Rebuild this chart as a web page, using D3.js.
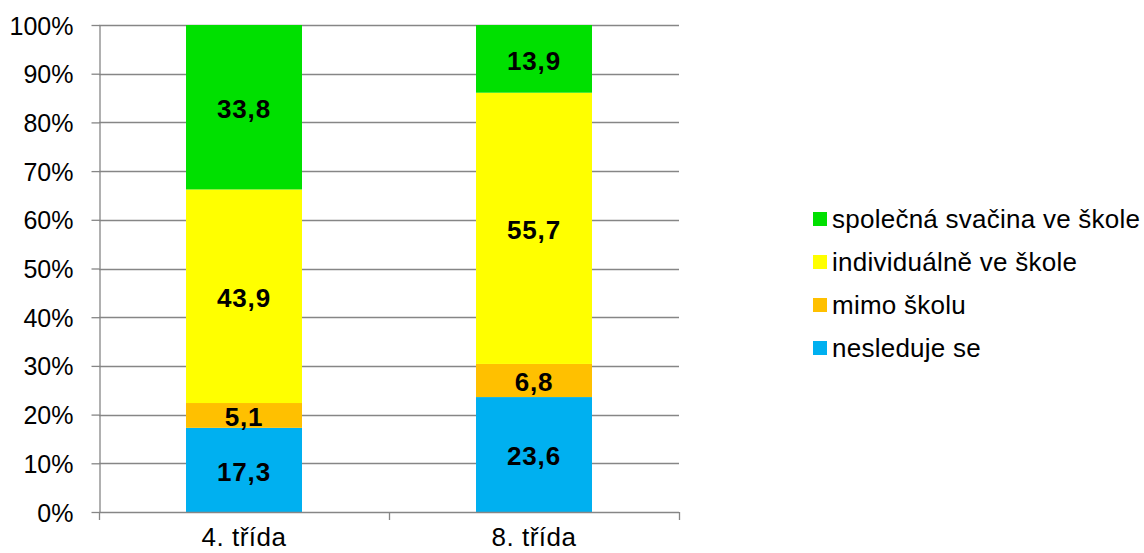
<!DOCTYPE html>
<html><head><meta charset="utf-8">
<script src="https://cdn.jsdelivr.net/npm/d3@7"></script>
<style>body{margin:0;background:#fff}svg{display:block}text{font-family:"Liberation Sans",Arial,sans-serif}</style>
</head><body><svg id="c" width="1144" height="553"></svg>
<script>
const categories = ["4. třída", "8. třída"];
const seriesNames = ["nesleduje se", "mimo školu", "individuálně ve škole", "společná svačina ve škole"];
const seriesColors = ["#00B0F0", "#FFC000", "#FFFF00", "#00E000"];
const nesleduje = [17.3, 23.6];
const mimo = [5.1, 6.8];
const individualne = [43.9, 55.7];
const spolecna = [33.8, 13.9];
const yTicks = [0, 10, 20, 30, 40, 50, 60, 70, 80, 90, 100];

const seriesValues = [nesleduje, mimo, individualne, spolecna];
const rows = categories.map((c, i) => {
  const r = {cat: c};
  seriesNames.forEach((s, j) => r[s] = seriesValues[j][i]);
  return r;
});
const stack = d3.stack().keys(seriesNames).offset(d3.stackOffsetExpand);
const stacked = stack(rows);

const svg = d3.select("#c");
const L = 99, R = 679, T = 25, B = 512;
const x = d3.scaleBand().domain(categories).range([L, R]).paddingInner(0.6).paddingOuter(0.3);
const y = d3.scaleLinear().domain([0, 1]).range([B, T]);
const grey = "#868686";

// gridlines
svg.append("g").selectAll("line").data(yTicks.filter(t => t > 0)).join("line")
  .attr("x1", L).attr("x2", R).attr("y1", d => Math.round(y(d / 100)) + 0.5).attr("y2", d => Math.round(y(d / 100)) + 0.5)
  .attr("stroke", grey).attr("stroke-width", 1.3);

// y axis
const yAxis = d3.axisLeft(y).tickValues(yTicks.map(t => t / 100)).tickFormat(d => Math.round(d * 100) + "%").tickSize(8).tickSizeOuter(0);
const gy = svg.append("g").attr("transform", `translate(${L + 0.5},0)`).call(yAxis);
gy.attr("font-family", null).attr("font-size", null);
gy.selectAll("path,line").attr("stroke", grey).attr("stroke-width", 1.3);
gy.selectAll("text").attr("font-size", 25).attr("fill", "#000").attr("x", -26).attr("dy", "0.36em");

// bars
const g = svg.append("g");
stacked.forEach((layer, j) => {
  g.append("g").selectAll("rect").data(layer).join("rect")
    .attr("x", d => x(d.data.cat)).attr("width", x.bandwidth())
    .attr("y", d => y(d[1])).attr("height", d => y(d[0]) - y(d[1]))
    .attr("fill", seriesColors[j]);
  g.append("g").selectAll("text").data(layer).join("text")
    .attr("x", d => x(d.data.cat) + x.bandwidth() / 2)
    .attr("y", d => (y(d[0]) + y(d[1])) / 2)
    .attr("dy", "0.42em").attr("text-anchor", "middle")
    .attr("font-size", 26).attr("font-weight", "bold").attr("letter-spacing", 0.8)
    .text(d => d.data[seriesNames[j]].toFixed(1).replace(".", ","));
});

// x axis
const xOuter = d3.scalePoint().domain([0, 1, 2]).range([L, R]);
svg.append("line").attr("x1", L).attr("x2", R).attr("y1", B + 0.5).attr("y2", B + 0.5).attr("stroke", grey).attr("stroke-width", 1.3);
svg.append("g").selectAll("line").data([0, 1, 2]).join("line")
  .attr("x1", d => xOuter(d) + 0.5).attr("x2", d => xOuter(d) + 0.5).attr("y1", B).attr("y2", B + 8)
  .attr("stroke", grey).attr("stroke-width", 1.3);
svg.append("g").selectAll("text").data(categories).join("text")
  .attr("x", d => x(d) + x.bandwidth() / 2).attr("y", 546)
  .attr("text-anchor", "middle").attr("font-size", 26).attr("letter-spacing", 0.5).text(d => d);

// legend
const leg = svg.append("g").attr("transform", "translate(813,0)");
const legOrder = [3, 2, 1, 0];
legOrder.forEach((j, k) => {
  const cy = 219 + k * 43;
  leg.append("rect").attr("x", 0).attr("y", cy - 7).attr("width", 14).attr("height", 14).attr("fill", seriesColors[j]);
  leg.append("text").attr("x", 19).attr("y", cy).attr("dy", "0.36em").attr("font-size", 26).attr("letter-spacing", 0.25).text(seriesNames[j]);
});
</script></body></html>
